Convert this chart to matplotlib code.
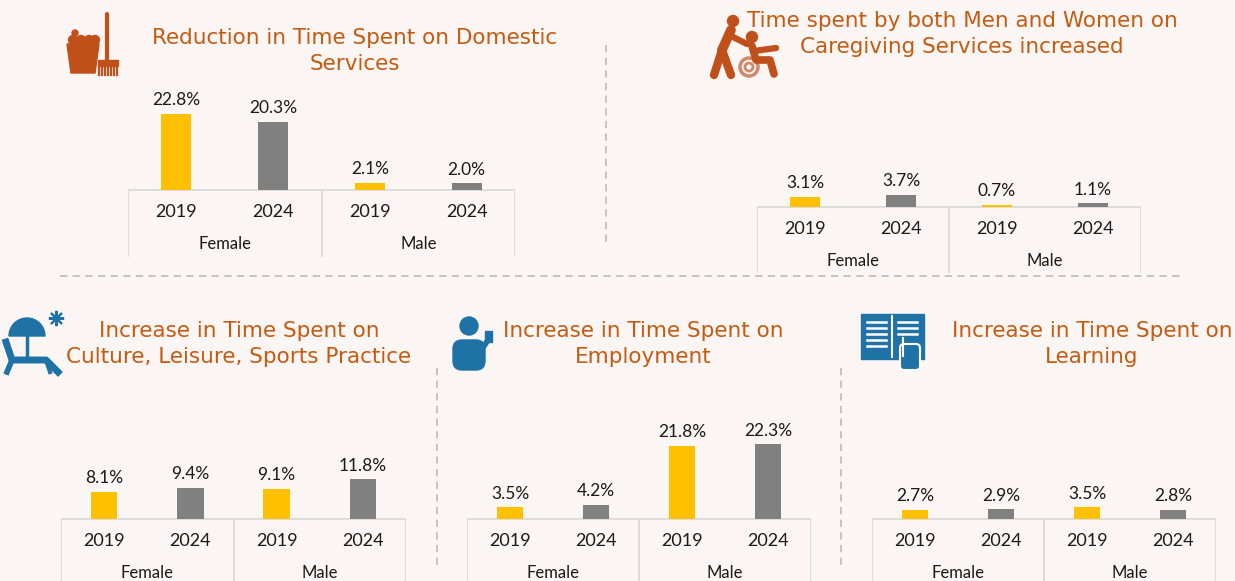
import matplotlib
matplotlib.use('Agg')
import matplotlib.pyplot as plt
from matplotlib.patches import Polygon, Circle, Rectangle, Wedge, FancyBboxPatch

W, H = 1235, 581
BG = '#FBF5F3'
YELLOW = '#FFC000'
GREY = '#808080'
TITLE_C = '#C55A11'
ICON_O = '#C0501A'
ICON_B = '#1F72A6'
LINE_C = '#D9D9D9'
SEP_C = '#BFBFBF'

TITLE_FONT = 'DejaVu Sans'
TICK_FONT = 'Lato'

# ---- data ----
YEARS = ['2019', '2024', '2019', '2024']
GENDERS = ['Female', 'Male']

domestic = [22.8, 20.3, 2.1, 2.0]
caregiving = [3.1, 3.7, 0.7, 1.1]
leisure = [8.1, 9.4, 9.1, 11.8]
employment = [3.5, 4.2, 21.8, 22.3]
learning = [2.7, 2.9, 3.5, 2.8]

titles = [
    'Reduction in Time Spent on Domestic\nServices',
    'Time spent by both Men and Women on\nCaregiving Services increased',
    'Increase in Time Spent on\nCulture, Leisure, Sports Practice',
    'Increase in Time Spent on\nEmployment',
    'Increase in Time Spent on\nLearning',
]

PX_PER_PCT = 3.35

# panel layout in pixels: (box left, box right, baseline y, box bottom y, title x, title y)
panels = [
    (domestic, 128, 515, 190, 257, 355, 51),
    (caregiving, 757, 1141, 207, 273, 962, 34),
    (leisure, 61, 406, 519, 581, 239, 344),
    (employment, 467, 811, 519, 581, 643, 344),
    (learning, 872, 1216, 519, 581, 1092, 344),
]

fig = plt.figure(figsize=(W / 100, H / 100), dpi=100)
fig.patch.set_facecolor(BG)

# overlay axis in pixel coordinates for separators, titles and icons
bg = fig.add_axes([0, 0, 1, 1])
bg.set_xlim(0, W)
bg.set_ylim(H, 0)
bg.axis('off')
bg.set_facecolor(BG)

dash = dict(color=SEP_C, lw=1.3, ls=(0, (4, 3)))
bg.plot([606, 606], [45, 245], **dash)
bg.plot([60, 1180], [276, 276], **dash)
bg.plot([437, 437], [368, 566], **dash)
bg.plot([841, 841], [368, 566], **dash)


def draw_panel(values, left, right, base, bottom):
    top = base - 110
    ax = fig.add_axes([left / W, 1 - bottom / H, (right - left) / W, (bottom - top) / H])
    ax.set_xlim(-0.5, 3.5)
    ax.set_ylim(-(bottom - base) / PX_PER_PCT, (base - top) / PX_PER_PCT)
    ax.axis('off')
    ax.patch.set_alpha(0)
    x = range(len(values))
    colors = [YELLOW, GREY, YELLOW, GREY]
    bars = ax.bar(x, values, width=0.31, color=colors, zorder=3)
    for b, v in zip(bars, values):
        ax.annotate(f'{v:.1f}%', (b.get_x() + b.get_width() / 2, v),
                    xytext=(0, 4), textcoords='offset points',
                    ha='center', va='bottom', fontsize=12.5, family=TICK_FONT,
                    color='#1A1A1A')
    ymin = ax.get_ylim()[0]
    ax.plot([-0.5, 3.5], [0, 0], color=LINE_C, lw=1.2, zorder=2)
    for xv in [-0.5, 1.5, 3.5]:
        ax.plot([xv, xv], [ymin, 0], color=LINE_C, lw=1.2, zorder=2)
    for i, yr in enumerate(YEARS):
        ax.text(i, -22 / PX_PER_PCT, yr, ha='center', va='center', fontsize=13,
                family=TICK_FONT, color='#1A1A1A')
    for j, g in enumerate(GENDERS):
        ax.text(2 * j + 0.5, -54 / PX_PER_PCT, g, ha='center', va='center',
                fontsize=12, family=TICK_FONT, color='#1A1A1A')
    return ax


for (vals, l, r, base, bot, tx, ty), title in zip(panels, titles):
    draw_panel(vals, l, r, base, bot)
    bg.text(tx, ty, title, ha='center', va='center', fontsize=15.5,
            family=TITLE_FONT, color=TITLE_C, linespacing=1.42)

# ---- simple icons ----
# domestic: bucket + broom
bg.add_patch(Polygon([[67, 44], [99, 44], [95, 73], [71, 73]], color=ICON_O))
for cx in [73, 81, 89, 95]:
    bg.add_patch(Circle((cx, 40), 4.5, color=ICON_O))
bg.add_patch(Circle((75, 33), 3, color=ICON_O))
bg.plot([107, 107], [14, 62], color=ICON_O, lw=3, solid_capstyle='round')
bg.add_patch(Rectangle((98, 60), 20, 6, color=ICON_O))
for bx in range(99, 119, 3):
    bg.plot([bx, bx], [66, 75], color=ICON_O, lw=1.6)

# caregiving: person pushing a wheelchair
rnd = dict(color=ICON_O, solid_capstyle='round', solid_joinstyle='round')
bg.add_patch(Circle((733, 21), 5.5, color=ICON_O))
bg.plot([731, 722], [30, 50], lw=7, **rnd)
bg.plot([722, 714], [50, 75], lw=6, **rnd)
bg.plot([722, 731], [50, 75], lw=6, **rnd)
bg.plot([729, 747], [35, 44], lw=4.5, **rnd)
bg.add_patch(Circle((752, 37), 5.5, color=ICON_O))
bg.plot([752, 756, 770, 774], [46, 60, 60, 74], lw=5.5, **rnd)
bg.plot([754, 776], [51, 48], lw=4.5, **rnd)
bg.add_patch(Circle((749, 67), 9, fill=False, ec='#D08A6A', lw=2.5))
bg.add_patch(Circle((749, 67), 4, fill=False, ec='#D08A6A', lw=2))

# leisure: umbrella + lounge chair + sun
bg.add_patch(Wedge((27, 336), 18, 180, 360, color=ICON_B))
bg.plot([27, 27], [336, 355], color=ICON_B, lw=2.5)
bg.plot([6, 12, 46, 58], [342, 360, 360, 372], color=ICON_B, lw=5,
        solid_joinstyle='round')
bg.plot([12, 7], [360, 372], color=ICON_B, lw=4)
bg.plot([46, 50], [360, 372], color=ICON_B, lw=3)
bg.plot([56], [318], marker=(8, 2, 0), ms=11, color=ICON_B, mew=1.5)
bg.add_patch(Circle((56, 318), 2.6, color=ICON_B))

# employment: person with phone
bg.add_patch(Circle((469, 326), 9, color=ICON_B))
bg.add_patch(FancyBboxPatch((453, 340), 32, 30, boxstyle='round,pad=0,rounding_size=9',
                            color=ICON_B))
bg.add_patch(Rectangle((485, 331), 7, 11, color=ICON_B))
bg.plot([480, 488], [352, 340], color=ICON_B, lw=4)

# learning: open book with pointing hand
bg.add_patch(Rectangle((861, 314), 63, 45, color=ICON_B))
bg.plot([892, 892], [316, 357], color='white', lw=1.5)
for ly in range(322, 352, 6):
    bg.plot([867, 886], [ly, ly], color='white', lw=1.8)
for ly in range(322, 340, 6):
    bg.plot([898, 917], [ly, ly], color='white', lw=1.8)
bg.add_patch(FancyBboxPatch((900, 344), 20, 26, boxstyle='round,pad=0,rounding_size=4',
                            fc=ICON_B, ec='white', lw=1.5))
bg.plot([903, 903], [338, 356], color='white', lw=1.5)

fig.savefig('out.png', dpi=100, facecolor=BG)
